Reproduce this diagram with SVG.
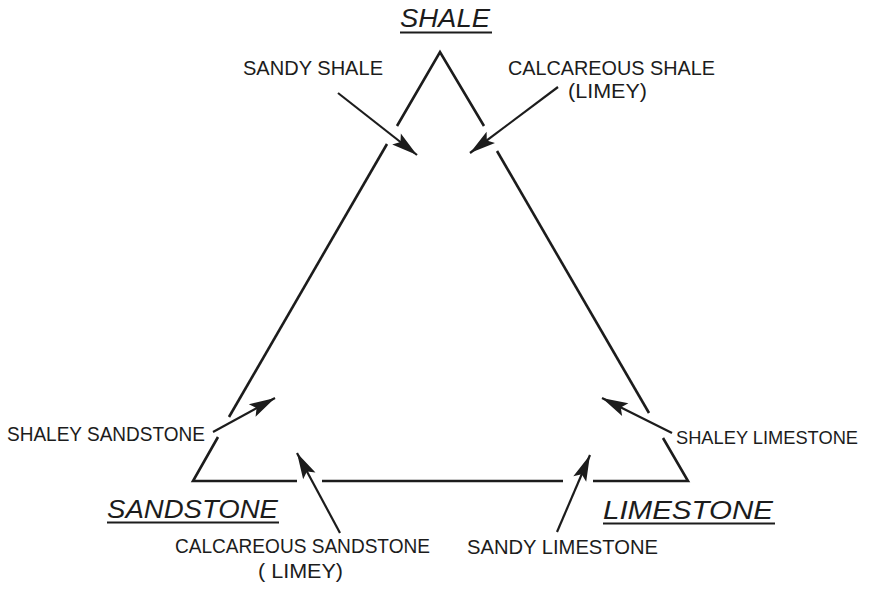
<svg xmlns="http://www.w3.org/2000/svg" width="873" height="589" viewBox="0 0 873 589">
<style>
.bg{fill:#ffffff}
.side{fill:none;stroke:#1c1c1c;stroke-width:2.6;stroke-linecap:butt;stroke-linejoin:miter}
.arr{fill:none;stroke:#1c1c1c;stroke-width:2.2;stroke-linecap:butt;marker-end:url(#ah)}
.lbl{font-family:"Liberation Sans","DejaVu Sans",sans-serif;font-size:21px;fill:#1c1c1c}
.big{font-family:"Liberation Sans","DejaVu Sans",sans-serif;font-size:25px;font-style:italic;fill:#1c1c1c}
.ul{stroke:#1c1c1c;stroke-width:1.8}
</style>
<defs>
<marker id="ah" markerUnits="userSpaceOnUse" markerWidth="32" markerHeight="18" viewBox="-28 -9 32 18" refX="0" refY="0" orient="auto" overflow="visible">
<path d="M0,0 L-26,-7 L-21,0 L-26,7 Z" fill="#1c1c1c"/>
</marker>
</defs>
<rect class="bg" x="0" y="0" width="873" height="589"/>
<g id="connectors">
<polyline class="side" points="397,126 440,52 484,126"/>
<line class="side" x1="387" y1="144" x2="229" y2="417"/>
<polyline class="side" points="218,437 193,481 297,481"/>
<line class="side" x1="322" y1="481" x2="563" y2="481"/>
<polyline class="side" points="593,481 688,481 663,438"/>
<line class="side" x1="649" y1="413" x2="497" y2="151"/>
<line class="arr" x1="338" y1="93" x2="417" y2="155"/>
<line class="arr" x1="558" y1="87" x2="470" y2="153"/>
<line class="arr" x1="213" y1="432" x2="275" y2="398"/>
<line class="arr" x1="340" y1="533" x2="297" y2="453"/>
<line class="arr" x1="557" y1="532" x2="590" y2="455"/>
<line class="arr" x1="672" y1="433" x2="602" y2="398"/>
</g>
<g id="shale">
<text class="big" x="400" y="27" textLength="90" lengthAdjust="spacingAndGlyphs">SHALE</text>
<line class="ul" x1="400" y1="32.5" x2="492" y2="32.5"/>
</g>
<g id="sandstone">
<text class="big" x="107" y="518" textLength="171" lengthAdjust="spacingAndGlyphs">SANDSTONE</text>
<line class="ul" x1="107" y1="522.5" x2="279" y2="522.5"/>
</g>
<g id="limestone">
<text class="big" x="603" y="519" textLength="170" lengthAdjust="spacingAndGlyphs">LIMESTONE</text>
<line class="ul" x1="603" y1="523.5" x2="775" y2="523.5"/>
</g>
<g id="sandy-shale">
<text class="lbl" x="243" y="75" textLength="140" lengthAdjust="spacingAndGlyphs">SANDY SHALE</text>
</g>
<g id="calcareous-shale">
<text class="lbl" x="508" y="75" textLength="207" lengthAdjust="spacingAndGlyphs">CALCAREOUS SHALE</text>
<text class="lbl" x="568" y="98" textLength="79" lengthAdjust="spacingAndGlyphs">(LIMEY)</text>
</g>
<g id="shaley-sandstone">
<text class="lbl" x="7" y="441" textLength="198" lengthAdjust="spacingAndGlyphs">SHALEY SANDSTONE</text>
</g>
<g id="shaley-limestone">
<text class="lbl" x="676" y="444" style="font-size:19px" textLength="182" lengthAdjust="spacingAndGlyphs">SHALEY LIMESTONE</text>
</g>
<g id="calcareous-sandstone">
<text class="lbl" x="175" y="553" textLength="255" lengthAdjust="spacingAndGlyphs">CALCAREOUS SANDSTONE</text>
<text class="lbl" x="258" y="578" textLength="85" lengthAdjust="spacingAndGlyphs">( LIMEY)</text>
</g>
<g id="sandy-limestone">
<text class="lbl" x="467" y="554" textLength="191" lengthAdjust="spacingAndGlyphs">SANDY LIMESTONE</text>
</g>
</svg>
